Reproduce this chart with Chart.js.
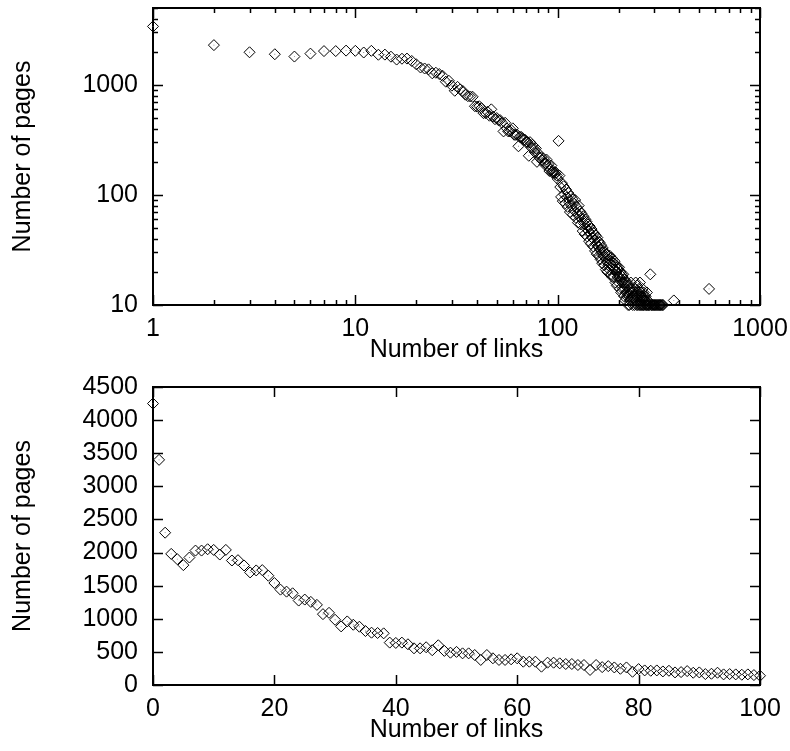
<!DOCTYPE html>
<html>
<head>
<meta charset="utf-8">
<script src="https://cdn.jsdelivr.net/npm/chart.js@4.4.1/dist/chart.umd.min.js"></script>
<style>
  html, body { margin: 0; padding: 0; background: #fff; }
  #quadro { position: relative; width: 790px; height: 751px; }
  canvas { position: absolute; left: 0; }
  #grafLog { top: 0; }
  #grafLin { top: 365px; }
</style>
</head>
<body>
<div id="quadro">
  <canvas id="grafLog" width="790" height="365"></canvas>
  <canvas id="grafLin" width="790" height="386"></canvas>
</div>
<script>
// número de páginas para cada número de links (índice = número de links, de 0 a 335)
const paginasPorLinks = [
    4250, 3400, 2300, 1980, 1900, 1810, 1925, 2030, 2030, 2050,
    2040, 1970, 2040, 1880, 1885, 1805, 1700, 1730, 1735, 1650,
    1540, 1440, 1410, 1385, 1275, 1290, 1255, 1210, 1070, 1090,
    985, 885, 960, 910, 880, 815, 790, 785, 780, 640,
    635, 640, 615, 554, 554, 570, 525, 600, 515, 488,
    500, 478, 478, 453, 378, 453, 403, 378, 378, 388,
    403, 352, 352, 352, 277, 337, 337, 327, 317, 317,
    302, 302, 227, 302, 270, 285, 265, 245, 265, 200,
    240, 220, 215, 220, 205, 215, 190, 195, 210, 185,
    190, 165, 170, 185, 160, 165, 160, 155, 160, 150,
    140, 310, 150, 118, 96, 128, 88, 120, 101, 84,
    112, 95, 78, 104, 86, 70, 97, 80, 92, 66,
    84, 72, 90, 62, 78, 68, 56, 80, 64, 71,
    54, 68, 60, 47, 64, 55, 44, 60, 50, 57,
    42, 54, 47, 38, 52, 44, 36, 49, 41, 46,
    34, 45, 39, 31, 43, 36, 29, 41, 34, 38,
    28, 37, 32, 26, 35, 30, 24, 33, 28, 31,
    23, 30, 27, 21, 29, 25, 20, 28, 23, 26,
    21, 28, 24, 19, 27, 23, 18, 26, 21, 24,
    18, 25, 21, 16, 23, 20, 15, 22, 18, 21,
    16, 22, 18, 14, 20, 17, 13, 19, 16, 18,
    14, 19, 16, 12, 17, 14, 11, 16, 13, 15,
    12, 16, 13, 10, 15, 12, 10, 14, 11, 13,
    16, 13, 11, 14, 12, 10, 13, 11, 9, 12,
    10, 14, 12, 16, 11, 13, 10, 15, 12, 10,
    13, 11, 14, 10, 12, 16, 10, 11, 13, 10,
    12, 12, 10, 14, 11, 10, 13, 10, 12, 9,
    11, 10, 12, 9, 11, 10, 13, 10, 8, 11,
    10, 9, 10, 7, 8, 10, 6, 19, 9, 8,
    10, 7, 10, 8, 6, 10, 9, 7, 10, 5,
    8, 10, 6, 8, 10, 7, 5, 10, 6, 9,
    10, 6, 8, 10, 5, 7, 10, 4, 6, 10,
    8, 5, 10, 7, 4, 10, 6, 5, 8, 10,
    4, 6, 10, 3, 5, 7
];
// pontos isolados mais à direita
const linksIsolados = [375, 560];
const paginasIsoladas = [11, 14];

// marcas dos eixos
const marcasXLog = [1, 10, 100, 1000];
const marcasYLog = [10, 100, 1000];
const marcasXLin = [0, 20, 40, 60, 80, 100];
const marcasYLin = [0, 500, 1000, 1500, 2000, 2500, 3000, 3500, 4000, 4500];

const rotuloX = 'Number of links';
const rotuloY = 'Number of pages';

// marcas menores das escalas logarítmicas (2..9 de cada década)
function marcasMenores(inicio, fim) {
    var lista = [];
    for (var d = inicio; d < fim; d *= 10) {
        for (var k = 2; k <= 9; k++) {
            if (d * k <= fim) lista.push(d * k);
        }
    }
    return lista;
}

var pontos = paginasPorLinks.map((p, i) => ({ x: i, y: p }))
    .concat(linksIsolados.map((l, i) => ({ x: l, y: paginasIsoladas[i] })));
var pontosLog = pontos.filter(p => p.x >= 1 && p.x <= 1000 && p.y >= 10 && p.y <= 5000);
var pontosLin = pontos.filter(p => p.x >= 0 && p.x <= 100 && p.y <= 4500);

Chart.defaults.font.family = '"Liberation Sans", Arial, sans-serif';
Chart.defaults.font.size = 25;
Chart.defaults.color = '#000';

// moldura e marcas para dentro, no estilo gnuplot
const molduraGnuplot = {
    id: 'molduraGnuplot',
    beforeDatasetsDraw(chart, args, opts) {
        var ctx = chart.ctx;
        var a = chart.chartArea;
        var sx = chart.scales.x, sy = chart.scales.y;
        ctx.save();
        ctx.strokeStyle = '#000';
        ctx.lineWidth = 1.5;
        ctx.beginPath();
        function marcaX(v, tam) {
            var px = Math.round(sx.getPixelForValue(v)) + 0.5;
            ctx.moveTo(px, a.bottom); ctx.lineTo(px, a.bottom - tam);
            ctx.moveTo(px, a.top); ctx.lineTo(px, a.top + tam);
        }
        function marcaY(v, tam) {
            var py = Math.round(sy.getPixelForValue(v)) + 0.5;
            ctx.moveTo(a.left, py); ctx.lineTo(a.left + tam, py);
            ctx.moveTo(a.right, py); ctx.lineTo(a.right - tam, py);
        }
        opts.maioresX.forEach(v => marcaX(v, 10));
        (opts.menoresX || []).forEach(v => marcaX(v, 5));
        opts.maioresY.forEach(v => marcaY(v, 10));
        (opts.menoresY || []).forEach(v => marcaY(v, 5));
        ctx.stroke();
        ctx.lineWidth = 2;
        ctx.strokeRect(a.left, a.top, a.right - a.left, a.bottom - a.top);
        ctx.restore();
    }
};

function conjuntos(dados) {
    return [{
        data: dados,
        pointStyle: 'rectRot',
        pointRadius: 5.5,
        pointBorderWidth: 1,
        pointBorderColor: '#000',
        pointBackgroundColor: 'rgba(0,0,0,0)',
        clip: false
    }, {
        data: dados,
        pointStyle: 'rect',
        pointRadius: 0.6,
        pointBorderWidth: 0,
        pointBackgroundColor: '#777',
        clip: false
    }];
}

function eixo(tipo, min, max, marcas, largura, altura, titulo, horizontal, paddingTitulo, paddingMarcas) {
    return {
        type: tipo,
        min: min,
        max: max,
        grid: { display: false, drawTicks: false },
        border: { display: false },
        afterBuildTicks: s => { s.ticks = marcas.map(v => ({ value: v })); },
        afterFit: s => {
            // a área do gráfico fica fixa, sem folga extra para os rótulos
            s.paddingTop = 0; s.paddingBottom = 0;
            s.paddingLeft = 0; s.paddingRight = 0;
            if (horizontal) s.height = altura; else s.width = largura;
        },
        ticks: {
            autoSkip: false,
            maxRotation: 0,
            padding: paddingMarcas,
            callback: v => String(v)
        },
        title: { display: true, text: titulo, padding: paddingTitulo }
    };
}

new Chart(document.getElementById('grafLog').getContext('2d'), {
    type: 'scatter',
    data: { datasets: conjuntos(pontosLog) },
    options: {
        responsive: false,
        animation: false,
        layout: { padding: { left: 0, right: 30, top: 8, bottom: 0 } },
        plugins: {
            legend: { display: false },
            tooltip: { enabled: false },
            molduraGnuplot: {
                maioresX: marcasXLog, menoresX: marcasMenores(1, 1000),
                maioresY: marcasYLog, menoresY: marcasMenores(10, 5000)
            }
        },
        scales: {
            x: eixo('logarithmic', 1, 1000, marcasXLog, 0, 60, rotuloX, true, { top: 0, bottom: 0 }, 9),
            y: eixo('logarithmic', 10, 5000, marcasYLog, 153, 0, rotuloY, false, { top: 8, bottom: 0 }, 15)
        }
    },
    plugins: [molduraGnuplot]
});

new Chart(document.getElementById('grafLin').getContext('2d'), {
    type: 'scatter',
    data: { datasets: conjuntos(pontosLin) },
    options: {
        responsive: false,
        animation: false,
        layout: { padding: { left: 0, right: 30, top: 22, bottom: 0 } },
        plugins: {
            legend: { display: false },
            tooltip: { enabled: false },
            molduraGnuplot: { maioresX: marcasXLin, maioresY: marcasYLin }
        },
        scales: {
            x: eixo('linear', 0, 100, marcasXLin, 0, 66, rotuloX, true, { top: 0, bottom: 6 }, 9),
            y: eixo('linear', 0, 4500, marcasYLin, 153, 0, rotuloY, false, { top: 8, bottom: 0 }, 15)
        }
    },
    plugins: [molduraGnuplot]
});
</script>
</body>
</html>
